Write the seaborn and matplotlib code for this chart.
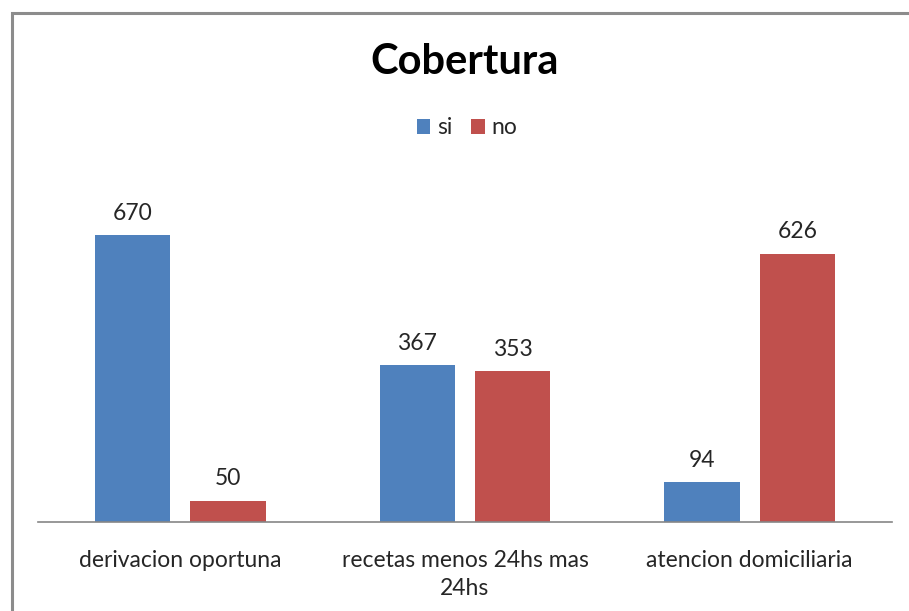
import matplotlib
matplotlib.use("Agg")
import matplotlib.pyplot as plt
import matplotlib.patches as mpatches
import seaborn as sns
import pandas as pd

categories = ["derivacion oportuna", "recetas menos 24hs mas 24hs", "atencion domiciliaria"]
tick_labels = ["derivacion oportuna", "recetas menos 24hs mas\n24hs", "atencion domiciliaria"]
series_names = ["si", "no"]
si_values = [670, 367, 94]
no_values = [50, 353, 626]
colors = ["#4F81BD", "#C0504D"]

df = pd.DataFrame({
    "cat": categories * 2,
    "serie": [series_names[0]] * 3 + [series_names[1]] * 3,
    "valor": si_values + no_values,
})

sns.set_theme(style="white")
plt.rcParams["font.family"] = ["Lato", "DejaVu Sans"]

W, H = 909, 611
fig = plt.figure(figsize=(W / 100, H / 100), dpi=100)
ax = fig.add_axes([38 / W, (H - 522) / H, (892 - 38) / W, 343 / H])

sns.barplot(data=df, x="cat", y="valor", hue="serie", order=categories,
            hue_order=series_names, palette=colors, width=0.671, gap=0.21,
            ax=ax, legend=False, saturation=1, linewidth=0)

ax.set_ylim(0, 800)
ax.set_xlim(-0.5, 2.5)
ax.set_yticks([])
ax.set_xlabel("")
ax.set_ylabel("")
ax.set_xticks(range(3))
ax.set_xticklabels(tick_labels, fontsize=16.5, color="#262626", linespacing=1.4)
ax.tick_params(axis="x", length=0, pad=20)
for s in ["top", "right", "left"]:
    ax.spines[s].set_visible(False)
ax.spines["bottom"].set_color("#868686")
ax.spines["bottom"].set_linewidth(1.2)

for cont in ax.containers:
    for bar in cont:
        h = bar.get_height()
        ax.annotate(f"{int(round(h))}", (bar.get_x() + bar.get_width() / 2, h),
                    xytext=(0, 8), textcoords="offset points",
                    ha="center", va="bottom", fontsize=16.5, color="#262626")

fig.text(465 / W, 1 - 62 / H, "Cobertura", ha="center", va="center",
         fontsize=30, fontweight="bold", color="black")

handles = [mpatches.Patch(facecolor=c, edgecolor="none") for c in colors]
fig.legend(handles, series_names, loc="center", bbox_to_anchor=(467 / W, 1 - 128 / H),
           ncol=2, frameon=False, fontsize=16.5, handlelength=0.6, handleheight=0.6,
           handletextpad=0.3, columnspacing=0.8)

border = mpatches.Rectangle((11.5 / W, -0.05), 1.1, 1 - 13.5 / H + 0.05,
                            transform=fig.transFigure, fill=False,
                            edgecolor="#8C8C8C", linewidth=2.2, clip_on=False)
fig.patches.append(border)

fig.savefig("out.png", dpi=100, facecolor="white")
